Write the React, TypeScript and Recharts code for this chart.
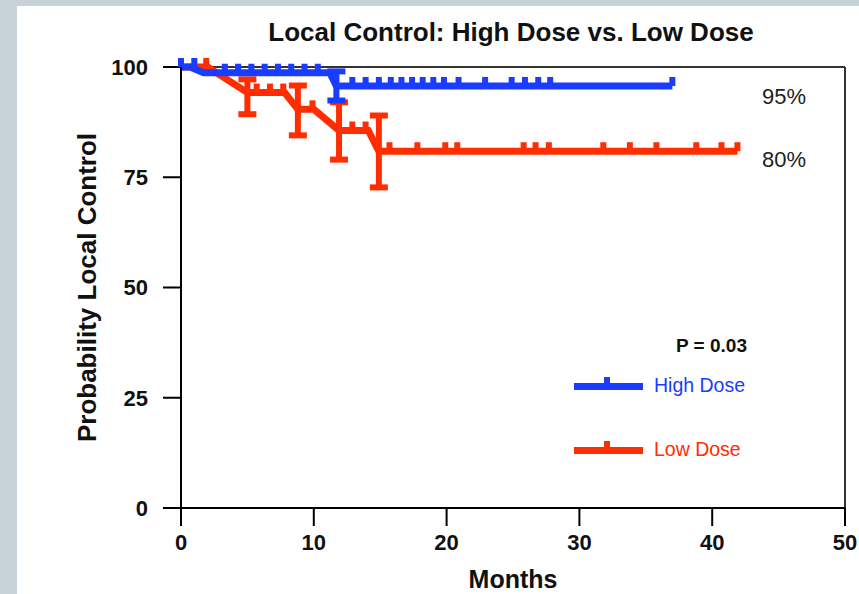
import React from 'react';
import {
  ComposedChart,
  Line,
  Scatter,
  ErrorBar,
  XAxis,
  YAxis,
  ReferenceLine,
  Legend,
} from 'recharts';

const BLUE = '#1a3cff';
const RED = '#ff2d00';
const FONT = "'Liberation Sans', Arial, Helvetica, sans-serif";

// Kaplan-Meier curves: months vs. % local control
const highDoseMonths = [0, 0.7, 1.7, 11.2, 11.7, 37];
const highDoseValues = [100, 100, 98.7, 98.7, 95.7, 95.7];
const lowDoseMonths = [0, 2, 5, 7.8, 8.8, 10, 11.9, 14.1, 14.9, 41.9];
const lowDoseValues = [100, 100, 94.2, 94.2, 90.4, 90.4, 85.6, 85.6, 80.9, 80.9];

// censored patients (tick marks)
const highDoseCensorMonths = [
  0, 1, 3.3, 4.3, 5.3, 6.3, 7.3, 8.3, 9.3, 10.3,
  12.9, 13.9, 14.9, 15.8, 16.6, 17.4, 18.2, 19.0, 19.8, 20.9, 22.9, 24.9, 25.9, 26.9, 27.8, 37,
];
const highDoseCensorValues = [
  100, 100, 98.7, 98.7, 98.7, 98.7, 98.7, 98.7, 98.7, 98.7,
  95.7, 95.7, 95.7, 95.7, 95.7, 95.7, 95.7, 95.7, 95.7, 95.7, 95.7, 95.7, 95.7, 95.7, 95.7, 95.7,
];
const lowDoseCensorMonths = [
  1.9, 5.7, 6.7, 7.7, 9.9, 12.9, 13.9,
  15.7, 17.8, 19.9, 20.8, 25.8, 26.7, 27.7, 31.8, 33.8, 35.8, 38.8, 40.7, 41.9,
];
const lowDoseCensorValues = [
  100, 94.2, 94.2, 94.2, 90.4, 85.6, 85.6,
  80.9, 80.9, 80.9, 80.9, 80.9, 80.9, 80.9, 80.9, 80.9, 80.9, 80.9, 80.9, 80.9,
];

// confidence interval bars
const highDoseCiMonths = [11.7];
const highDoseCiValues = [95.7];
const highDoseCiLower = [92.4];
const highDoseCiUpper = [99];
const lowDoseCiMonths = [5, 8.8, 11.9, 14.9];
const lowDoseCiValues = [94.2, 90.4, 85.6, 80.9];
const lowDoseCiLower = [89.3, 84.5, 79, 72.7];
const lowDoseCiUpper = [97.2, 95.8, 92, 89];

const xTicks = [0, 10, 20, 30, 40, 50];
const yTicks = [0, 25, 50, 75, 100];

const toPoints = (xs: number[], ys: number[]) => xs.map((x, i) => ({ x, y: ys[i] }));

const toCiPoints = (xs: number[], ys: number[], lo: number[], hi: number[]) =>
  xs.map((x, i) => ({ x, y: ys[i], err: [ys[i] - lo[i], hi[i] - ys[i]] }));

const highDoseData = toPoints(highDoseMonths, highDoseValues);
const lowDoseData = toPoints(lowDoseMonths, lowDoseValues);
const highDoseCensors = toPoints(highDoseCensorMonths, highDoseCensorValues);
const lowDoseCensors = toPoints(lowDoseCensorMonths, lowDoseCensorValues);
const highDoseCi = toCiPoints(highDoseCiMonths, highDoseCiValues, highDoseCiLower, highDoseCiUpper);
const lowDoseCi = toCiPoints(lowDoseCiMonths, lowDoseCiValues, lowDoseCiLower, lowDoseCiUpper);

const censorMark = (color: string) => (props: any) => {
  const { cx, cy } = props;
  if (cx == null || cy == null) return <g />;
  return <rect x={cx - 3} y={cy - 9} width={6} height={9} fill={color} />;
};

const noMark = () => <g />;

const LegendRow = ({ color, label, top }: { color: string; label: string; top: number }) => (
  <>
    <div style={{ position: 'absolute', left: 4, top: top - 3.5, width: 69, height: 7, background: color }} />
    <div style={{ position: 'absolute', left: 34, top: top - 9, width: 6, height: 9, background: color }} />
    <div
      style={{
        position: 'absolute',
        left: 84,
        top: top - 10,
        fontSize: 19.5,
        lineHeight: 1,
        color,
        whiteSpace: 'nowrap',
      }}
    >
      {label}
    </div>
  </>
);

const LegendContent = () => (
  <div style={{ position: 'relative', width: 220, height: 140, fontFamily: FONT }}>
    <div
      style={{
        position: 'absolute',
        left: 106,
        top: 6,
        fontSize: 19,
        fontWeight: 'bold',
        lineHeight: 1,
        color: '#111',
        whiteSpace: 'nowrap',
      }}
    >
      P = 0.03
    </div>
    <LegendRow color={BLUE} label="High Dose" top={56} />
    <LegendRow color={RED} label="Low Dose" top={120} />
  </div>
);

const textStyle: React.CSSProperties = {
  position: 'absolute',
  fontFamily: FONT,
  lineHeight: 1,
  color: '#111',
  whiteSpace: 'nowrap',
};

const App: React.FC = () => {
  const tickStyle = { fill: '#111', fontSize: 22, fontWeight: 'bold', fontFamily: FONT };
  const axisStroke = { stroke: '#000', strokeWidth: 2 };

  return (
    <div
      style={{
        position: 'absolute',
        left: 0,
        top: 0,
        width: 859,
        height: 594,
        background: '#c6d1d8',
        overflow: 'hidden',
      }}
    >
      <div style={{ position: 'absolute', left: 17, top: 6, right: 0, bottom: 0, background: '#fff' }} />
      <div style={{ position: 'absolute', left: 0, top: 0 }}>
        <ComposedChart width={859} height={594} margin={{ top: 67, right: 14, left: 0, bottom: 0 }}>
          <XAxis
            dataKey="x"
            type="number"
            domain={[0, 50]}
            ticks={xTicks}
            height={86}
            tickSize={18}
            tickMargin={8}
            tick={tickStyle}
            axisLine={axisStroke}
            tickLine={axisStroke}
            label={{
              value: 'Months',
              position: 'insideBottom',
              offset: 6,
              fill: '#111',
              fontSize: 25,
              fontWeight: 'bold',
              fontFamily: FONT,
            }}
          />
          <YAxis
            dataKey="y"
            type="number"
            domain={[0, 100]}
            ticks={yTicks}
            width={181}
            tickSize={18}
            tickMargin={15}
            tick={tickStyle}
            axisLine={axisStroke}
            tickLine={axisStroke}
            label={{
              value: 'Probability Local Control',
              angle: -90,
              position: 'center',
              dx: -4,
              fill: '#111',
              fontSize: 26,
              fontWeight: 'bold',
              fontFamily: FONT,
            }}
          />
          <ReferenceLine y={100} stroke="#333" strokeWidth={2} />
          <ReferenceLine x={50} stroke="#333" strokeWidth={2} />

          <Line
            data={lowDoseData}
            dataKey="y"
            type="linear"
            stroke={RED}
            strokeWidth={7}
            dot={false}
            activeDot={false}
            legendType="none"
            isAnimationActive={false}
          />
          <Scatter data={lowDoseCi} dataKey="y" shape={noMark} legendType="none" isAnimationActive={false}>
            <ErrorBar dataKey="err" direction="y" width={9} strokeWidth={6} stroke={RED} isAnimationActive={false} />
          </Scatter>
          <Scatter
            data={lowDoseCensors}
            dataKey="y"
            shape={censorMark(RED)}
            legendType="none"
            isAnimationActive={false}
          />

          <Line
            data={highDoseData}
            dataKey="y"
            type="linear"
            stroke={BLUE}
            strokeWidth={7}
            dot={false}
            activeDot={false}
            legendType="none"
            isAnimationActive={false}
          />
          <Scatter data={highDoseCi} dataKey="y" shape={noMark} legendType="none" isAnimationActive={false}>
            <ErrorBar dataKey="err" direction="y" width={9} strokeWidth={6} stroke={BLUE} isAnimationActive={false} />
          </Scatter>
          <Scatter
            data={highDoseCensors}
            dataKey="y"
            shape={censorMark(BLUE)}
            legendType="none"
            isAnimationActive={false}
          />

          <Legend
            layout="vertical"
            align="center"
            verticalAlign="middle"
            wrapperStyle={{ left: 570, top: 330, width: 220 }}
            content={() => <LegendContent />}
          />
        </ComposedChart>
      </div>

      <div style={{ ...textStyle, left: 0, width: 1022, top: 19, textAlign: 'center', fontSize: 26, fontWeight: 'bold' }}>
        Local Control: High Dose vs. Low Dose
      </div>
      <div style={{ ...textStyle, left: 762, top: 86, fontSize: 22, color: '#222' }}>95%</div>
      <div style={{ ...textStyle, left: 762, top: 149, fontSize: 22, color: '#222' }}>80%</div>
    </div>
  );
};

export default App;
